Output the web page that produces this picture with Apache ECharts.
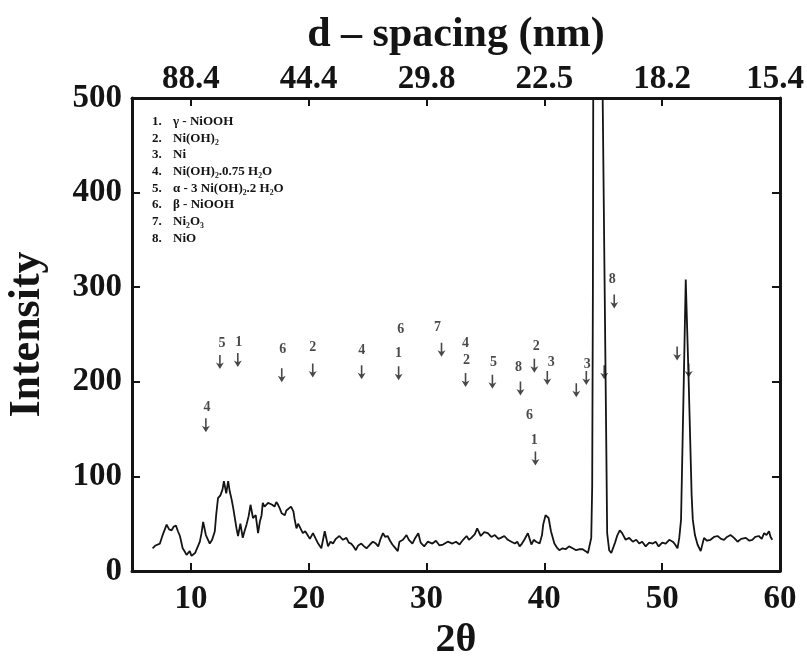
<!DOCTYPE html>
<html><head><meta charset="utf-8">
<script src="https://cdn.jsdelivr.net/npm/echarts@6/dist/echarts.min.js"></script>
<style>html,body{margin:0;padding:0;background:#fff}#c{width:807px;height:663px}</style>
</head><body><div id="c"></div>
<script>
const twoTheta = [6.75,7.0,7.37,7.6,7.94,8.15,8.36,8.55,8.73,8.9,9.07,9.3,9.5,9.63,9.9,10.05,10.2,10.35,10.5,10.76,10.9,11.04,11.27,11.6,11.8,12.03,12.15,12.3,12.5,12.68,12.8,13.0,13.16,13.3,13.45,13.6,13.87,14.0,14.2,14.4,14.55,14.72,14.9,15.06,15.27,15.5,15.7,15.85,16.0,16.1,16.25,16.4,16.55,16.7,16.9,17.1,17.25,17.4,17.55,17.7,17.97,18.1,18.25,18.5,18.7,18.8,18.96,19.1,19.24,19.5,19.7,19.9,20.1,20.36,20.6,20.8,21.07,21.36,21.64,21.85,22.06,22.3,22.6,22.9,23.2,23.4,23.6,23.8,24.0,24.2,24.46,24.7,24.9,25.2,25.45,25.7,25.9,26.1,26.3,26.5,26.7,26.9,27.1,27.3,27.56,27.7,28.0,28.3,28.5,28.8,29.0,29.3,29.5,29.8,30.1,30.5,30.8,31.1,31.4,31.8,32.2,32.5,32.8,33.1,33.4,33.6,33.8,34.1,34.3,34.6,34.9,35.2,35.5,35.8,36.1,36.3,36.6,36.9,37.2,37.5,37.7,37.9,38.1,38.3,38.6,38.9,39.1,39.3,39.6,39.8,39.9,40.1,40.36,40.56,40.85,41.05,41.27,41.55,41.8,42.1,42.4,42.7,43.0,43.25,43.5,43.7,43.98,44.06,44.12,44.16,44.5,44.9,45.1,45.25,45.33,45.5,45.68,45.82,46.0,46.2,46.4,46.6,46.9,47.2,47.5,47.8,48.05,48.3,48.6,48.9,49.2,49.45,49.7,50.0,50.3,50.6,50.9,51.1,51.3,51.45,51.6,51.8,52.0,52.25,52.5,52.6,52.78,53.0,53.27,53.55,53.8,54.1,54.4,54.7,55.0,55.25,55.5,55.8,56.1,56.4,56.7,57.1,57.4,57.65,57.9,58.2,58.45,58.65,58.85,59.07,59.2,59.35];
const intensity = [24,27,29,38,49,44,43,47,48,42,37,24,20,17,21,16,14,19,21,31,40,52,38,29,33,42,60,77,80,86,95,82,95,84,76,66,45,37,50,35,42,49,58,70,56,59,40,52,59,72,68,66,72,74,70,68,73,70,66,61,59,64,63,68,63,55,45,50,49,40,42,38,34,40,34,29,24,42,26,31,29,34,37,33,35,30,29,26,22,27,29,26,24,28,31,29,26,34,40,36,37,32,28,25,21,31,33,38,33,29,34,40,30,26,31,29,32,27,28,31,29,31,28,33,37,33,35,39,45,37,41,40,36,38,34,35,37,33,31,29,31,26,29,33,40,28,33,31,29,38,49,59,56,42,29,25,22,24,23,26,24,22,23,23,21,19,35,90,300,600,700,560,320,140,40,22,19,21,30,38,43,40,33,35,31,33,29,31,26,30,29,31,26,30,29,33,31,28,24,35,54,180,308,200,80,54,38,28,21,35,32,33,36,37,34,33,36,38,35,31,34,35,32,33,36,37,34,40,38,42,36,33];
const xTicks = [10,20,30,40,50,60];
const dSpacingLabels = ['88.4','44.4','29.8','22.5','18.2','15.4'];
const legendNums = ['1.','2.','3.','4.','5.','6.','7.','8.'];
const legendNames = ['γ - NiOOH','Ni(OH)₂','Ni','Ni(OH)₂.0.75 H₂O','α - 3 Ni(OH)₂.2 H₂O','β - NiOOH','Ni₂O₃','NiO'];
const arrowX = [11.27,12.46,13.98,17.71,20.34,24.49,27.63,31.27,33.31,35.59,37.97,39.15,40.25,39.24,42.71,43.56,45.93,51.27,45.08,52.25];
const arrowY = [154,221,223,207,212,210,209,234,202,200,193,217,204,119,191,204,285,230,210,212];
const labelX = [11.36,12.63,14.07,17.8,20.34,24.49,27.63,27.8,30.93,33.31,33.39,35.68,37.8,39.32,40.59,38.73,39.15,43.64,45.76];
const labelY = [173,241,242,234,236,233,230,255,257,241,223,220,215,237,221,165,138,218,308];
const labelText = ['4','5','1','6','2','4','1','6','7','4','2','5','8','2','3','6','1','3','8'];

const FONT = 'Liberation Serif';
const INK = '#141414';
const chart = echarts.init(document.getElementById('c'));
const axisCommon = {
  type: 'value', min: 5, max: 60,
  axisLine: {show: true, onZero: false, lineStyle: {color: INK, width: 3}},
  axisTick: {show: true, inside: true, length: 8, customValues: xTicks, lineStyle: {color: INK, width: 2}},
  splitLine: {show: false}
};
chart.setOption({
  animation: false,
  backgroundColor: '#fff',
  grid: {left: 132, right: 27, top: 98, bottom: 92, outerBoundsMode: 'none', containLabel: false},
  xAxis: [
    Object.assign({}, axisCommon, {
      position: 'bottom',
      axisLabel: {customValues: xTicks, fontFamily: FONT, fontWeight: 'bold', fontSize: 33, color: INK, margin: 12},
      name: '2θ', nameLocation: 'middle', nameGap: 45,
      nameTextStyle: {fontFamily: FONT, fontWeight: 'bold', fontSize: 40, color: INK}
    }),
    Object.assign({}, axisCommon, {
      position: 'top',
      axisLabel: {customValues: xTicks, fontFamily: FONT, fontWeight: 'bold', fontSize: 33, color: INK, margin: 2,
        formatter: v => {
          const t = dSpacingLabels[xTicks.indexOf(v)] || '';
          return v === xTicks[xTicks.length - 1] ? '{last|' + t + '}' : t;
        },
        rich: {last: {fontFamily: FONT, fontWeight: 'bold', fontSize: 33, color: INK, padding: [0, 10, 0, 0]}}
      },
      name: 'd – spacing (nm)', nameLocation: 'middle', nameGap: 42,
      nameTextStyle: {fontFamily: FONT, fontWeight: 'bold', fontSize: 42, color: INK}
    })
  ],
  yAxis: [
    {
      type: 'value', min: 0, max: 500, interval: 100, position: 'left',
      axisLine: {show: true, onZero: false, lineStyle: {color: INK, width: 3}},
      axisTick: {show: true, inside: true, length: 8, lineStyle: {color: INK, width: 2}},
      axisLabel: {fontFamily: FONT, fontWeight: 'bold', fontSize: 33, color: INK, margin: 10},
      splitLine: {show: false},
      name: 'Intensity', nameLocation: 'middle', nameGap: 82,
      nameTextStyle: {fontFamily: FONT, fontWeight: 'bold', fontSize: 44, color: INK}
    },
    {
      type: 'value', min: 0, max: 500, interval: 100, position: 'right',
      axisLine: {show: true, onZero: false, lineStyle: {color: INK, width: 3}},
      axisTick: {show: true, inside: true, length: 8, lineStyle: {color: INK, width: 2}},
      axisLabel: {show: false},
      splitLine: {show: false}
    }
  ],
  graphic: legendNums.map((n, i) => ({
    type: 'group', left: 152, top: 115 + i * 16.7,
    children: [
      {type: 'text', left: 0, top: 0, style: {text: n, font: 'bold 13px "Liberation Serif"', fill: INK}},
      {type: 'text', left: 21, top: 0, style: {text: legendNames[i], font: 'bold 13px "Liberation Serif"', fill: INK}}
    ]
  })),
  series: [
    {
      type: 'line', xAxisIndex: 0, yAxisIndex: 0,
      data: twoTheta.map((x, i) => [x, intensity[i]]),
      showSymbol: false, clip: true,
      lineStyle: {color: INK, width: 1.8}
    },
    {
      type: 'scatter', xAxisIndex: 0, yAxisIndex: 0,
      data: arrowX.map((x, i) => [x, arrowY[i]]),
      symbol: 'path://M4.2,0L5.8,0L5.8,9L9,7.5L5,14L1,7.5L4.2,9Z',
      symbolSize: [8, 14],
      itemStyle: {color: '#1a1a1a'}
    },
    {
      type: 'scatter', xAxisIndex: 0, yAxisIndex: 0,
      data: labelX.map((x, i) => ({value: [x, labelY[i]], name: labelText[i]})),
      symbolSize: 1,
      itemStyle: {color: 'rgba(0,0,0,0)'},
      label: {show: true, position: 'inside', formatter: p => p.name,
        fontFamily: FONT, fontWeight: 'bold', fontSize: 14, color: '#1a1a1a'}
    }
  ]
});
</script>
</body></html>
